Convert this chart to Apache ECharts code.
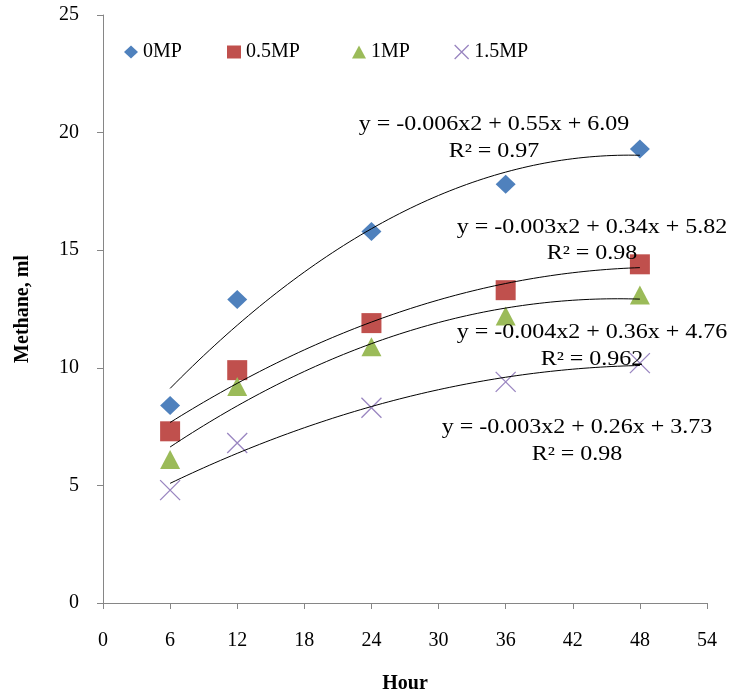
<!DOCTYPE html>
<html><head><meta charset="utf-8">
<script src="https://cdn.jsdelivr.net/npm/echarts@6/dist/echarts.min.js"></script>
<style>html,body{margin:0;padding:0;background:#fff}#c{width:748px;height:699px}</style>
</head><body><div id="c"></div>
<script>
// ---- data ----
const hours = [6, 12, 24, 36, 48];
const seriesNames = ['0MP', '0.5MP', '1MP', '1.5MP'];
const mp0  = [8.4, 12.9, 15.8, 17.8, 19.3];
const mp05 = [7.3, 9.9, 11.9, 13.3, 14.4];
const mp1  = [6.1, 9.2, 10.9, 12.2, 13.1];
const mp15 = [4.8, 6.8, 8.3, 9.4, 10.2];
const equations = ['y = -0.006x2 + 0.55x + 6.09', 'y = -0.003x2 + 0.34x + 5.82', 'y = -0.004x2 + 0.36x + 4.76', 'y = -0.003x2 + 0.26x + 3.73'];
const r2Labels = ['R² = 0.97', 'R² = 0.98', 'R² = 0.962', 'R² = 0.98'];
const xAxisTitle = 'Hour';
const yAxisTitle = 'Methane, ml';

// ---- styles ----
const FONT = '"Liberation Serif", "Times New Roman", serif';
const colors = ['#4F81BD', '#C0504D', '#9BBB59', '#9985C0'];
const symbols = ['diamond', 'rect', 'triangle', 'path://M0,0L20,20M20,0L0,20'];
const symbolSizes = [[20, 19], 20, [20, 19], 20];
const legendLeft = [124, 227, 352, 454];
const eqPos = [[494, 125, 152], [592, 228, 254], [592, 333, 360], [577, 428, 455]];

// quadratic least-squares trendline (as the spreadsheet's polynomial trendline)
function quadFit(xs, ys) {
  let s = [0, 0, 0, 0, 0], t = [0, 0, 0];
  for (let i = 0; i < xs.length; i++) {
    let p = 1;
    for (let k = 0; k < 5; k++) { s[k] += p; if (k < 3) t[k] += p * ys[i]; p *= xs[i]; }
  }
  const A = [[s[0], s[1], s[2], t[0]], [s[1], s[2], s[3], t[1]], [s[2], s[3], s[4], t[2]]];
  for (let c = 0; c < 3; c++) {
    for (let r = c + 1; r < 3; r++) {
      const f = A[r][c] / A[c][c];
      for (let k = c; k < 4; k++) A[r][k] -= f * A[c][k];
    }
  }
  const b = [0, 0, 0];
  for (let r = 2; r >= 0; r--) {
    let v = A[r][3];
    for (let k = r + 1; k < 3; k++) v -= A[r][k] * b[k];
    b[r] = v / A[r][r];
  }
  return x => b[0] + b[1] * x + b[2] * x * x;
}

function styleFor(i) {
  return i === 3
    ? { color: colors[i], borderColor: colors[i], borderWidth: 1.3, opacity: 1 }
    : { color: colors[i], borderWidth: 0, opacity: 1 };
}

const allValues = [mp0, mp05, mp1, mp15];
const series = [];
allValues.forEach((vals, i) => {
  series.push({
    name: seriesNames[i], type: 'scatter', z: 2,
    symbol: symbols[i], symbolSize: symbolSizes[i],
    itemStyle: styleFor(i),
    emphasis: { disabled: true },
    data: hours.map((h, j) => [h, vals[j]])
  });
});
allValues.forEach((vals, i) => {
  const f = quadFit(hours, vals);
  const pts = [];
  for (let x = hours[0]; x <= hours[hours.length - 1] + 1e-9; x += 0.5) pts.push([x, f(x)]);
  series.push({
    name: 'trend' + i, type: 'line', z: 3, silent: true, showSymbol: false, symbol: 'none',
    lineStyle: { color: '#000', width: 1 }, data: pts, animation: false
  });
});

const legends = seriesNames.map((n, i) => ({
  left: legendLeft[i], top: 42, itemWidth: i === 3 ? 15 : 14, itemHeight: i === 3 ? 14 : 13, itemGap: 0,
  padding: 0, selectedMode: false,
  data: [{ name: n, icon: symbols[i], itemStyle: styleFor(i) }],
  itemStyle: styleFor(i),
  textStyle: { fontFamily: FONT, fontSize: 20, color: '#000' }
}));

const graphics = [];
equations.forEach((eq, i) => {
  graphics.push({ type: 'text', x: eqPos[i][0], y: eqPos[i][1], scaleX: 1.2, z: 10,
    style: { text: eq, font: '20px ' + FONT, fill: '#000', textAlign: 'center', textVerticalAlign: 'middle' } });
  graphics.push({ type: 'text', x: eqPos[i][0], y: eqPos[i][2], scaleX: 1.2, z: 10,
    style: { text: r2Labels[i], font: '20px ' + FONT, fill: '#000', textAlign: 'center', textVerticalAlign: 'middle' } });
});

const chart = echarts.init(document.getElementById('c'), null, { renderer: 'canvas' });
chart.setOption({
  animation: false,
  backgroundColor: '#fff',
  grid: { left: 103, right: 41, top: 15, bottom: 95, containLabel: false },
  legend: legends,
  xAxis: {
    type: 'value', min: 0, max: 54, interval: 6,
    name: xAxisTitle, nameLocation: 'middle', nameGap: 71,
    nameTextStyle: { fontFamily: FONT, fontSize: 20, fontWeight: 'bold', color: '#000' },
    axisLine: { show: true, lineStyle: { color: '#868686', width: 1 } },
    axisTick: { show: true, length: 6, lineStyle: { color: '#868686' } },
    axisLabel: { margin: 28, fontFamily: FONT, fontSize: 20, color: '#000' },
    splitLine: { show: false }
  },
  yAxis: {
    type: 'value', min: 0, max: 25, interval: 5,
    name: yAxisTitle, nameLocation: 'middle', nameGap: 70, nameRotate: 90,
    nameTextStyle: { fontFamily: FONT, fontSize: 20, fontWeight: 'bold', color: '#000' },
    axisLine: { show: true, lineStyle: { color: '#868686', width: 1 } },
    axisTick: { show: true, length: 6, lineStyle: { color: '#868686' } },
    axisLabel: { margin: 24, fontFamily: FONT, fontSize: 20, color: '#000' },
    splitLine: { show: false }
  },
  series: series,
  graphic: graphics
});
</script>
</body></html>
